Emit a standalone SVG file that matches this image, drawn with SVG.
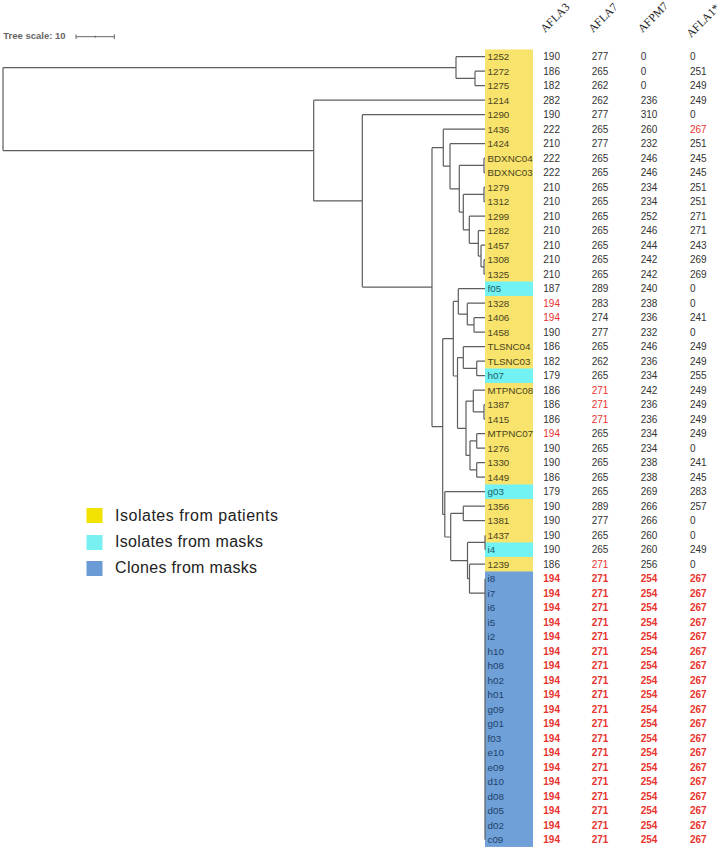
<svg xmlns="http://www.w3.org/2000/svg" width="726" height="850" viewBox="0 0 726 850">
<style>
.y{fill:#f8e36c}.c{fill:#72f2f2}.b{fill:#6fa1d8}
.l{font-family:'Liberation Sans',Arial,sans-serif;font-size:9.8px}
.ly{fill:#4a4420}.lc{fill:#1c5f6b}.lb{fill:#21406a}
.v{font-family:'Liberation Sans',Arial,sans-serif;font-size:10px;fill:#333}
.r{fill:#e8332e}.rb{fill:#e8332e;font-weight:bold}
.h{font-family:'Liberation Serif','Times New Roman',serif;font-size:11.5px;fill:#222}
.t{fill:none;stroke:#5e5e5e;stroke-width:1.2}
.lg{font-family:'Liberation Sans',Arial,sans-serif;font-size:16px;fill:#222}
</style>
<rect width="726" height="850" fill="#fff"/>
<g id="scale">
<text x="3.3" y="39.3" font-family="'Liberation Sans',Arial,sans-serif" font-size="9.5" font-weight="bold" fill="#666">Tree scale: 10</text>
<path d="M76,36.7H114.3M76,34.4V39M114.3,34.4V39M95.2,35.7V37.7" stroke="#666" stroke-width="1" fill="none"/>
</g>
<g id="headers">
<text class="h" transform="translate(545,33) rotate(-45)">AFLA3</text>
<text class="h" transform="translate(593,33) rotate(-45)">AFLA7</text>
<text class="h" transform="translate(642.5,33) rotate(-45)">AFPM7</text>
<text class="h" transform="translate(691,38) rotate(-45)">AFLA1*</text>
</g>
<g id="leaves">
<g id="n1252"><rect class="y" x="485" y="49.45" width="48" height="15"/><text class="l ly" x="487.5" y="60.3">1252</text><text class="v" y="60.3"><tspan x="543.3">190</tspan><tspan x="591.7">277</tspan><tspan x="640.7">0</tspan><tspan x="690">0</tspan></text></g>
<g id="n1272"><rect class="y" x="485" y="63.95" width="48" height="15"/><text class="l ly" x="487.5" y="74.8">1272</text><text class="v" y="74.8"><tspan x="543.3">186</tspan><tspan x="591.7">265</tspan><tspan x="640.7">0</tspan><tspan x="690">251</tspan></text></g>
<g id="n1275"><rect class="y" x="485" y="78.45" width="48" height="15"/><text class="l ly" x="487.5" y="89.3">1275</text><text class="v" y="89.3"><tspan x="543.3">182</tspan><tspan x="591.7">262</tspan><tspan x="640.7">0</tspan><tspan x="690">249</tspan></text></g>
<g id="n1214"><rect class="y" x="485" y="92.95" width="48" height="15"/><text class="l ly" x="487.5" y="103.8">1214</text><text class="v" y="103.8"><tspan x="543.3">282</tspan><tspan x="591.7">262</tspan><tspan x="640.7">236</tspan><tspan x="690">249</tspan></text></g>
<g id="n1290"><rect class="y" x="485" y="107.45" width="48" height="15"/><text class="l ly" x="487.5" y="118.3">1290</text><text class="v" y="118.3"><tspan x="543.3">190</tspan><tspan x="591.7">277</tspan><tspan x="640.7">310</tspan><tspan x="690">0</tspan></text></g>
<g id="n1436"><rect class="y" x="485" y="121.95" width="48" height="15"/><text class="l ly" x="487.5" y="132.8">1436</text><text class="v" y="132.8"><tspan x="543.3">222</tspan><tspan x="591.7">265</tspan><tspan x="640.7">260</tspan><tspan x="690" class="r">267</tspan></text></g>
<g id="n1424"><rect class="y" x="485" y="136.45" width="48" height="15"/><text class="l ly" x="487.5" y="147.3">1424</text><text class="v" y="147.3"><tspan x="543.3">210</tspan><tspan x="591.7">277</tspan><tspan x="640.7">232</tspan><tspan x="690">251</tspan></text></g>
<g id="nBDXNC04"><rect class="y" x="485" y="150.95" width="48" height="15"/><text class="l ly" x="487.5" y="161.8">BDXNC04</text><text class="v" y="161.8"><tspan x="543.3">222</tspan><tspan x="591.7">265</tspan><tspan x="640.7">246</tspan><tspan x="690">245</tspan></text></g>
<g id="nBDXNC03"><rect class="y" x="485" y="165.45" width="48" height="15"/><text class="l ly" x="487.5" y="176.3">BDXNC03</text><text class="v" y="176.3"><tspan x="543.3">222</tspan><tspan x="591.7">265</tspan><tspan x="640.7">246</tspan><tspan x="690">245</tspan></text></g>
<g id="n1279"><rect class="y" x="485" y="179.95" width="48" height="15"/><text class="l ly" x="487.5" y="190.8">1279</text><text class="v" y="190.8"><tspan x="543.3">210</tspan><tspan x="591.7">265</tspan><tspan x="640.7">234</tspan><tspan x="690">251</tspan></text></g>
<g id="n1312"><rect class="y" x="485" y="194.45" width="48" height="15"/><text class="l ly" x="487.5" y="205.3">1312</text><text class="v" y="205.3"><tspan x="543.3">210</tspan><tspan x="591.7">265</tspan><tspan x="640.7">234</tspan><tspan x="690">251</tspan></text></g>
<g id="n1299"><rect class="y" x="485" y="208.95" width="48" height="15"/><text class="l ly" x="487.5" y="219.8">1299</text><text class="v" y="219.8"><tspan x="543.3">210</tspan><tspan x="591.7">265</tspan><tspan x="640.7">252</tspan><tspan x="690">271</tspan></text></g>
<g id="n1282"><rect class="y" x="485" y="223.45" width="48" height="15"/><text class="l ly" x="487.5" y="234.3">1282</text><text class="v" y="234.3"><tspan x="543.3">210</tspan><tspan x="591.7">265</tspan><tspan x="640.7">246</tspan><tspan x="690">271</tspan></text></g>
<g id="n1457"><rect class="y" x="485" y="237.95" width="48" height="15"/><text class="l ly" x="487.5" y="248.8">1457</text><text class="v" y="248.8"><tspan x="543.3">210</tspan><tspan x="591.7">265</tspan><tspan x="640.7">244</tspan><tspan x="690">243</tspan></text></g>
<g id="n1308"><rect class="y" x="485" y="252.45" width="48" height="15"/><text class="l ly" x="487.5" y="263.3">1308</text><text class="v" y="263.3"><tspan x="543.3">210</tspan><tspan x="591.7">265</tspan><tspan x="640.7">242</tspan><tspan x="690">269</tspan></text></g>
<g id="n1325"><rect class="y" x="485" y="266.95" width="48" height="15"/><text class="l ly" x="487.5" y="277.8">1325</text><text class="v" y="277.8"><tspan x="543.3">210</tspan><tspan x="591.7">265</tspan><tspan x="640.7">242</tspan><tspan x="690">269</tspan></text></g>
<g id="nf05"><rect class="c" x="485" y="281.45" width="48" height="15"/><text class="l lc" x="487.5" y="292.3">f05</text><text class="v" y="292.3"><tspan x="543.3">187</tspan><tspan x="591.7">289</tspan><tspan x="640.7">240</tspan><tspan x="690">0</tspan></text></g>
<g id="n1328"><rect class="y" x="485" y="295.95" width="48" height="15"/><text class="l ly" x="487.5" y="306.8">1328</text><text class="v" y="306.8"><tspan x="543.3" class="r">194</tspan><tspan x="591.7">283</tspan><tspan x="640.7">238</tspan><tspan x="690">0</tspan></text></g>
<g id="n1406"><rect class="y" x="485" y="310.45" width="48" height="15"/><text class="l ly" x="487.5" y="321.3">1406</text><text class="v" y="321.3"><tspan x="543.3" class="r">194</tspan><tspan x="591.7">274</tspan><tspan x="640.7">236</tspan><tspan x="690">241</tspan></text></g>
<g id="n1458"><rect class="y" x="485" y="324.95" width="48" height="15"/><text class="l ly" x="487.5" y="335.8">1458</text><text class="v" y="335.8"><tspan x="543.3">190</tspan><tspan x="591.7">277</tspan><tspan x="640.7">232</tspan><tspan x="690">0</tspan></text></g>
<g id="nTLSNC04"><rect class="y" x="485" y="339.45" width="48" height="15"/><text class="l ly" x="487.5" y="350.3">TLSNC04</text><text class="v" y="350.3"><tspan x="543.3">186</tspan><tspan x="591.7">265</tspan><tspan x="640.7">246</tspan><tspan x="690">249</tspan></text></g>
<g id="nTLSNC03"><rect class="y" x="485" y="353.95" width="48" height="15"/><text class="l ly" x="487.5" y="364.8">TLSNC03</text><text class="v" y="364.8"><tspan x="543.3">182</tspan><tspan x="591.7">262</tspan><tspan x="640.7">236</tspan><tspan x="690">249</tspan></text></g>
<g id="nh07"><rect class="c" x="485" y="368.45" width="48" height="15"/><text class="l lc" x="487.5" y="379.3">h07</text><text class="v" y="379.3"><tspan x="543.3">179</tspan><tspan x="591.7">265</tspan><tspan x="640.7">234</tspan><tspan x="690">255</tspan></text></g>
<g id="nMTPNC08"><rect class="y" x="485" y="382.95" width="48" height="15"/><text class="l ly" x="487.5" y="393.8">MTPNC08</text><text class="v" y="393.8"><tspan x="543.3">186</tspan><tspan x="591.7" class="r">271</tspan><tspan x="640.7">242</tspan><tspan x="690">249</tspan></text></g>
<g id="n1387"><rect class="y" x="485" y="397.45" width="48" height="15"/><text class="l ly" x="487.5" y="408.3">1387</text><text class="v" y="408.3"><tspan x="543.3">186</tspan><tspan x="591.7" class="r">271</tspan><tspan x="640.7">236</tspan><tspan x="690">249</tspan></text></g>
<g id="n1415"><rect class="y" x="485" y="411.95" width="48" height="15"/><text class="l ly" x="487.5" y="422.8">1415</text><text class="v" y="422.8"><tspan x="543.3">186</tspan><tspan x="591.7" class="r">271</tspan><tspan x="640.7">236</tspan><tspan x="690">249</tspan></text></g>
<g id="nMTPNC07"><rect class="y" x="485" y="426.45" width="48" height="15"/><text class="l ly" x="487.5" y="437.3">MTPNC07</text><text class="v" y="437.3"><tspan x="543.3" class="r">194</tspan><tspan x="591.7">265</tspan><tspan x="640.7">234</tspan><tspan x="690">249</tspan></text></g>
<g id="n1276"><rect class="y" x="485" y="440.95" width="48" height="15"/><text class="l ly" x="487.5" y="451.8">1276</text><text class="v" y="451.8"><tspan x="543.3">190</tspan><tspan x="591.7">265</tspan><tspan x="640.7">234</tspan><tspan x="690">0</tspan></text></g>
<g id="n1330"><rect class="y" x="485" y="455.45" width="48" height="15"/><text class="l ly" x="487.5" y="466.3">1330</text><text class="v" y="466.3"><tspan x="543.3">190</tspan><tspan x="591.7">265</tspan><tspan x="640.7">238</tspan><tspan x="690">241</tspan></text></g>
<g id="n1449"><rect class="y" x="485" y="469.95" width="48" height="15"/><text class="l ly" x="487.5" y="480.8">1449</text><text class="v" y="480.8"><tspan x="543.3">186</tspan><tspan x="591.7">265</tspan><tspan x="640.7">238</tspan><tspan x="690">245</tspan></text></g>
<g id="ng03"><rect class="c" x="485" y="484.45" width="48" height="15"/><text class="l lc" x="487.5" y="495.3">g03</text><text class="v" y="495.3"><tspan x="543.3">179</tspan><tspan x="591.7">265</tspan><tspan x="640.7">269</tspan><tspan x="690">283</tspan></text></g>
<g id="n1356"><rect class="y" x="485" y="498.95" width="48" height="15"/><text class="l ly" x="487.5" y="509.8">1356</text><text class="v" y="509.8"><tspan x="543.3">190</tspan><tspan x="591.7">289</tspan><tspan x="640.7">266</tspan><tspan x="690">257</tspan></text></g>
<g id="n1381"><rect class="y" x="485" y="513.45" width="48" height="15"/><text class="l ly" x="487.5" y="524.3">1381</text><text class="v" y="524.3"><tspan x="543.3">190</tspan><tspan x="591.7">277</tspan><tspan x="640.7">266</tspan><tspan x="690">0</tspan></text></g>
<g id="n1437"><rect class="y" x="485" y="527.95" width="48" height="15"/><text class="l ly" x="487.5" y="538.8">1437</text><text class="v" y="538.8"><tspan x="543.3">190</tspan><tspan x="591.7">265</tspan><tspan x="640.7">260</tspan><tspan x="690">0</tspan></text></g>
<g id="ni4"><rect class="c" x="485" y="542.45" width="48" height="15"/><text class="l lc" x="487.5" y="553.3">i4</text><text class="v" y="553.3"><tspan x="543.3">190</tspan><tspan x="591.7">265</tspan><tspan x="640.7">260</tspan><tspan x="690">249</tspan></text></g>
<g id="n1239"><rect class="y" x="485" y="556.95" width="48" height="15"/><text class="l ly" x="487.5" y="567.8">1239</text><text class="v" y="567.8"><tspan x="543.3">186</tspan><tspan x="591.7" class="r">271</tspan><tspan x="640.7">256</tspan><tspan x="690">0</tspan></text></g>
<g id="ni8"><rect class="b" x="485" y="571.45" width="48" height="15"/><text class="l lb" x="487.5" y="582.3">i8</text><text class="v rb" y="582.3"><tspan x="543.3">194</tspan><tspan x="591.7">271</tspan><tspan x="640.7">254</tspan><tspan x="690">267</tspan></text></g>
<g id="ni7"><rect class="b" x="485" y="585.95" width="48" height="15"/><text class="l lb" x="487.5" y="596.8">i7</text><text class="v rb" y="596.8"><tspan x="543.3">194</tspan><tspan x="591.7">271</tspan><tspan x="640.7">254</tspan><tspan x="690">267</tspan></text></g>
<g id="ni6"><rect class="b" x="485" y="600.45" width="48" height="15"/><text class="l lb" x="487.5" y="611.3">i6</text><text class="v rb" y="611.3"><tspan x="543.3">194</tspan><tspan x="591.7">271</tspan><tspan x="640.7">254</tspan><tspan x="690">267</tspan></text></g>
<g id="ni5"><rect class="b" x="485" y="614.95" width="48" height="15"/><text class="l lb" x="487.5" y="625.8">i5</text><text class="v rb" y="625.8"><tspan x="543.3">194</tspan><tspan x="591.7">271</tspan><tspan x="640.7">254</tspan><tspan x="690">267</tspan></text></g>
<g id="ni2"><rect class="b" x="485" y="629.45" width="48" height="15"/><text class="l lb" x="487.5" y="640.3">i2</text><text class="v rb" y="640.3"><tspan x="543.3">194</tspan><tspan x="591.7">271</tspan><tspan x="640.7">254</tspan><tspan x="690">267</tspan></text></g>
<g id="nh10"><rect class="b" x="485" y="643.95" width="48" height="15"/><text class="l lb" x="487.5" y="654.8">h10</text><text class="v rb" y="654.8"><tspan x="543.3">194</tspan><tspan x="591.7">271</tspan><tspan x="640.7">254</tspan><tspan x="690">267</tspan></text></g>
<g id="nh08"><rect class="b" x="485" y="658.45" width="48" height="15"/><text class="l lb" x="487.5" y="669.3">h08</text><text class="v rb" y="669.3"><tspan x="543.3">194</tspan><tspan x="591.7">271</tspan><tspan x="640.7">254</tspan><tspan x="690">267</tspan></text></g>
<g id="nh02"><rect class="b" x="485" y="672.95" width="48" height="15"/><text class="l lb" x="487.5" y="683.8">h02</text><text class="v rb" y="683.8"><tspan x="543.3">194</tspan><tspan x="591.7">271</tspan><tspan x="640.7">254</tspan><tspan x="690">267</tspan></text></g>
<g id="nh01"><rect class="b" x="485" y="687.45" width="48" height="15"/><text class="l lb" x="487.5" y="698.3">h01</text><text class="v rb" y="698.3"><tspan x="543.3">194</tspan><tspan x="591.7">271</tspan><tspan x="640.7">254</tspan><tspan x="690">267</tspan></text></g>
<g id="ng09"><rect class="b" x="485" y="701.95" width="48" height="15"/><text class="l lb" x="487.5" y="712.8">g09</text><text class="v rb" y="712.8"><tspan x="543.3">194</tspan><tspan x="591.7">271</tspan><tspan x="640.7">254</tspan><tspan x="690">267</tspan></text></g>
<g id="ng01"><rect class="b" x="485" y="716.45" width="48" height="15"/><text class="l lb" x="487.5" y="727.3">g01</text><text class="v rb" y="727.3"><tspan x="543.3">194</tspan><tspan x="591.7">271</tspan><tspan x="640.7">254</tspan><tspan x="690">267</tspan></text></g>
<g id="nf03"><rect class="b" x="485" y="730.95" width="48" height="15"/><text class="l lb" x="487.5" y="741.8">f03</text><text class="v rb" y="741.8"><tspan x="543.3">194</tspan><tspan x="591.7">271</tspan><tspan x="640.7">254</tspan><tspan x="690">267</tspan></text></g>
<g id="ne10"><rect class="b" x="485" y="745.45" width="48" height="15"/><text class="l lb" x="487.5" y="756.3">e10</text><text class="v rb" y="756.3"><tspan x="543.3">194</tspan><tspan x="591.7">271</tspan><tspan x="640.7">254</tspan><tspan x="690">267</tspan></text></g>
<g id="ne09"><rect class="b" x="485" y="759.95" width="48" height="15"/><text class="l lb" x="487.5" y="770.8">e09</text><text class="v rb" y="770.8"><tspan x="543.3">194</tspan><tspan x="591.7">271</tspan><tspan x="640.7">254</tspan><tspan x="690">267</tspan></text></g>
<g id="nd10"><rect class="b" x="485" y="774.45" width="48" height="15"/><text class="l lb" x="487.5" y="785.3">d10</text><text class="v rb" y="785.3"><tspan x="543.3">194</tspan><tspan x="591.7">271</tspan><tspan x="640.7">254</tspan><tspan x="690">267</tspan></text></g>
<g id="nd08"><rect class="b" x="485" y="788.95" width="48" height="15"/><text class="l lb" x="487.5" y="799.8">d08</text><text class="v rb" y="799.8"><tspan x="543.3">194</tspan><tspan x="591.7">271</tspan><tspan x="640.7">254</tspan><tspan x="690">267</tspan></text></g>
<g id="nd05"><rect class="b" x="485" y="803.45" width="48" height="15"/><text class="l lb" x="487.5" y="814.3">d05</text><text class="v rb" y="814.3"><tspan x="543.3">194</tspan><tspan x="591.7">271</tspan><tspan x="640.7">254</tspan><tspan x="690">267</tspan></text></g>
<g id="nd02"><rect class="b" x="485" y="817.95" width="48" height="15"/><text class="l lb" x="487.5" y="828.8">d02</text><text class="v rb" y="828.8"><tspan x="543.3">194</tspan><tspan x="591.7">271</tspan><tspan x="640.7">254</tspan><tspan x="690">267</tspan></text></g>
<g id="nc09"><rect class="b" x="485" y="832.45" width="48" height="14.5"/><text class="l lb" x="487.5" y="843.3">c09</text><text class="v rb" y="843.3"><tspan x="543.3">194</tspan><tspan x="591.7">271</tspan><tspan x="640.7">254</tspan><tspan x="690">267</tspan></text></g>
</g>
<g id="connectors" class="t">
<path d="M3,67.6V150.55M3,67.6H456M3,150.55H313.7"/>
<path d="M456,56.7V78.45M456,56.7H485M456,78.45H475"/>
<path d="M475,71.2V85.7M475,71.2H485M475,85.7H485"/>
<path d="M313.7,100.2V200.9M313.7,100.2H485M313.7,200.9H362.3"/>
<path d="M362.3,114.7V287.1M362.3,114.7H485M362.3,287.1H432"/>
<path d="M432,147.7V426.55M432,147.7H443.3M432,426.55H442.7"/>
<path d="M443.3,129.2V166.2M443.3,129.2H485M443.3,166.2H450"/>
<path d="M450,143.7V188.8M450,143.7H485M450,188.8H459.3"/>
<path d="M459.3,165.45V212.1M459.3,165.45H484M459.3,212.1H463.3"/>
<path d="M484,158.2V172.7M484,158.2H485M484,172.7H485"/>
<path d="M463.3,194.45V229.8M463.3,194.45H484M463.3,229.8H469.3"/>
<path d="M484,187.2V201.7M484,187.2H485M484,201.7H485"/>
<path d="M469.3,216.2V243.4M469.3,216.2H485M469.3,243.4H478.3"/>
<path d="M478.3,230.7V256.1M478.3,230.7H485M478.3,256.1H481"/>
<path d="M481,245.2V266.95M481,245.2H485M481,266.95H484"/>
<path d="M484,259.7V274.2M484,259.7H485M484,274.2H485"/>
<path d="M442.7,338.7V514.4M442.7,338.7H453.3M442.7,514.4H444.8"/>
<path d="M453.3,301.4V376M453.3,301.4H458.3M453.3,376H457.5"/>
<path d="M458.3,288.7V314.1M458.3,288.7H485M458.3,314.1H467.3"/>
<path d="M467.3,303.2V324.95M467.3,303.2H485M467.3,324.95H474"/>
<path d="M474,317.7V332.2M474,317.7H485M474,332.2H485"/>
<path d="M457.5,357.6V428.3M457.5,357.6H463.3M457.5,428.3H466"/>
<path d="M463.3,346.7V368.45M463.3,346.7H485M463.3,368.45H476.7"/>
<path d="M476.7,361.2V375.7M476.7,361.2H485M476.7,375.7H485"/>
<path d="M466,401.1V455.45M466,401.1H473.3M466,455.45H470"/>
<path d="M473.3,390.2V411.95M473.3,390.2H485M473.3,411.95H484"/>
<path d="M484,404.7V419.2M484,404.7H485M484,419.2H485"/>
<path d="M470,440.95V469.95M470,440.95H476.7M470,469.95H476.7"/>
<path d="M476.7,433.7V448.2M476.7,433.7H485M476.7,448.2H485"/>
<path d="M476.7,462.7V477.2M476.7,462.7H485M476.7,477.2H485"/>
<path d="M444.8,491.7V537M444.8,491.7H485M444.8,537H450.7"/>
<path d="M450.7,513.45V560.6M450.7,513.45H463.3M450.7,560.6H467.5"/>
<path d="M463.3,506.2V520.7M463.3,506.2H485M463.3,520.7H485"/>
<path d="M467.5,542.45V578.7M467.5,542.45H485M467.5,578.7H469.5"/>
<path d="M485,535.2V549.7"/>
<path d="M469.5,564.2V593.2M469.5,564.2H485M469.5,593.2H485"/>
<path d="M485,578.7V839.7"/>
</g>
<g id="legend">
<rect x="86.5" y="508" width="16" height="15" fill="#f2e200"/>
<text class="lg" x="115" y="520.5" textLength="163" lengthAdjust="spacing">Isolates from patients</text>
<rect x="86.5" y="535" width="16" height="15" fill="#79f0f0"/>
<text class="lg" x="115" y="547" textLength="148" lengthAdjust="spacing">Isolates from masks</text>
<rect x="86.5" y="561" width="16" height="15" fill="#6b9bd5"/>
<text class="lg" x="115" y="573" textLength="142" lengthAdjust="spacing">Clones from masks</text>
</g>
</svg>
